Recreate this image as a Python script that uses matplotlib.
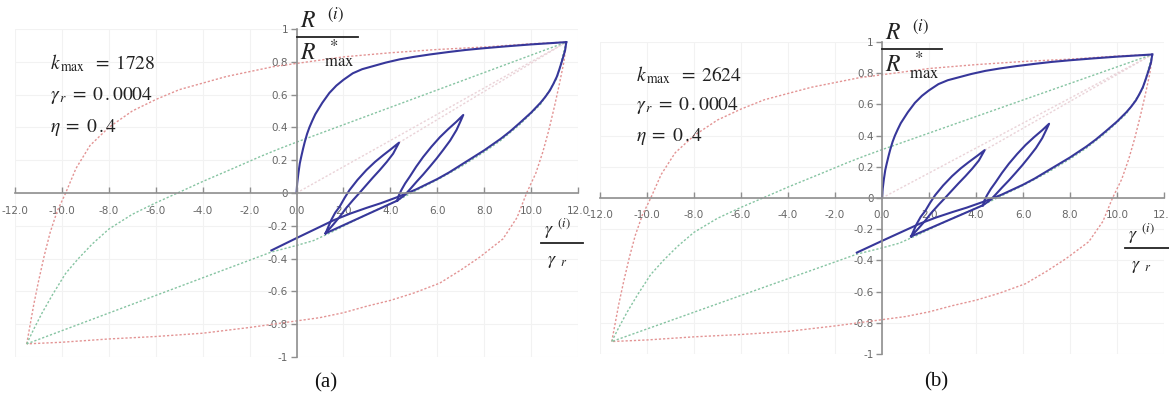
#! /usr/bin/env python3

import matplotlib

matplotlib.use("Agg")
import matplotlib.pyplot as plt
from matplotlib.lines import Line2D
from matplotlib.ticker import FixedLocator, FuncFormatter

# normalised strain gamma/gamma_r and force R/R*_max, same loop for both runs
backbone_x = [0.0, 0.03, 0.08, 0.14, 0.2, 0.28, 0.35, 0.45, 0.55, 0.67, 0.8, 0.95, 1.1, 1.25, 1.4,
              1.7, 2.0, 2.4, 2.8, 3.3, 3.8, 4.4, 5.0, 5.7, 6.5, 7.2, 8.0, 9.0, 10.0, 11.5]
backbone_y = [0.0, 0.06, 0.12, 0.18, 0.22, 0.27, 0.31, 0.36, 0.40, 0.44, 0.48, 0.515, 0.55, 0.58, 0.61,
              0.655, 0.69, 0.73, 0.755, 0.775, 0.795, 0.815, 0.83, 0.845, 0.86, 0.872, 0.883, 0.895, 0.906, 0.92]

unload_x = [11.5, 11.45, 11.35, 11.22, 11.1, 10.95, 10.8, 10.6, 10.4, 10.0, 9.5, 9.1, 8.7, 8.3, 8.0,
            7.5, 7.0, 6.5, 6.0, 5.5, 5.1, 4.7, 4.3, 3.6, 3.0, 2.3, 1.6, 0.8, 0.0, -1.07]
unload_y = [0.92, 0.87, 0.82, 0.76, 0.71, 0.665, 0.625, 0.585, 0.55, 0.49, 0.425, 0.375, 0.33, 0.29, 0.26,
            0.215, 0.17, 0.125, 0.085, 0.05, 0.022, -0.002, -0.025, -0.062, -0.09, -0.125, -0.165, -0.22, -0.275, -0.35]

loop1_x = [1.24, 1.33, 1.48, 1.65, 1.84, 2.05, 2.26, 2.6, 2.98, 3.35, 3.69, 4.05, 4.37,
           4.25, 4.12, 3.85, 3.55, 3.25, 2.98, 2.7, 2.41, 2.1, 1.84, 1.55, 1.24]
loop1_y = [-0.246, -0.215, -0.165, -0.12, -0.083, -0.03, 0.018, 0.08, 0.14, 0.19, 0.23, 0.27, 0.307,
           0.275, 0.24, 0.19, 0.14, 0.093, 0.049, 0.003, -0.043, -0.095, -0.145, -0.195, -0.246]

loop2_x = [4.29, 4.36, 4.47, 4.63, 4.83, 5.1, 5.4, 5.75, 6.11, 6.47, 6.82, 7.11,
           7.0, 6.82, 6.55, 6.25, 5.97, 5.68, 5.4, 5.12, 4.87, 4.62, 4.45, 4.29]
loop2_y = [-0.047, -0.015, 0.018, 0.058, 0.10, 0.16, 0.22, 0.282, 0.34, 0.39, 0.435, 0.476,
           0.44, 0.384, 0.32, 0.262, 0.21, 0.16, 0.113, 0.069, 0.028, -0.012, -0.03, -0.047]

link_x = [1.24, 4.29]
link_y = [-0.246, -0.047]

# Masing curves (red) and scaled skeleton curves (green)
red_up_x = [-11.5, -11.35, -11.2, -11.0, -10.75, -10.5, -10.2, -9.84, -9.4, -8.8, -8.0, -7.0, -6.0,
            -5.0, -4.0, -3.0, -2.0, -1.0, 0.0, 2.0, 4.0, 6.0, 8.0, 10.0, 11.5]
red_up_y = [-0.92, -0.80, -0.68, -0.54, -0.38, -0.24, -0.11, 0.0, 0.15, 0.29, 0.40, 0.50, 0.57,
            0.63, 0.67, 0.71, 0.74, 0.77, 0.79, 0.83, 0.855, 0.875, 0.89, 0.91, 0.92]

red_down_x = [11.5, 11.4, 11.2, 11.0, 10.75, 10.5, 10.2, 9.81, 9.4, 8.8, 7.82, 7.0, 6.1, 5.0, 4.0,
              3.0, 2.0, 1.0, 0.0, -2.0, -4.0, -6.0, -8.0, -10.0, -11.5]
red_down_y = [0.92, 0.80, 0.66, 0.53, 0.38, 0.25, 0.12, 0.0, -0.15, -0.28, -0.39, -0.47, -0.55, -0.61, -0.655,
              -0.69, -0.73, -0.76, -0.78, -0.82, -0.855, -0.875, -0.89, -0.91, -0.92]

green_up_x = [-11.5, -11.2, -10.84, -10.4, -9.84, -9.3, -8.7, -8.0, -7.0, -6.0, -5.07, -4.0, -2.7,
              -1.5, -0.73, 0.0, 11.5]
green_up_y = [-0.92, -0.83, -0.73, -0.62, -0.49, -0.40, -0.31, -0.22, -0.13, -0.06, 0.0, 0.07, 0.15,
              0.225, 0.27, 0.31, 0.92]

green_down_x = [11.5, 11.1, 10.4, 9.5, 8.7, 8.0, 7.0, 6.0, 5.1, 4.3, 3.0, 1.55, 0.73, 0.0, -1.07, -11.5]
green_down_y = [0.92, 0.70, 0.54, 0.415, 0.32, 0.25, 0.16, 0.08, 0.015, -0.045, -0.13, -0.235, -0.29, -0.32,
                -0.36, -0.92]

chord_x = [0.0, 11.5]
chord_y = [0.0, 0.92]
chord2_x = [4.37, 11.5]
chord2_y = [0.307, 0.92]

kmax_values = [1728, 2624]
gamma_r = "0\\,.0004"
eta = "0\\,.4"
panel_names = ["(a)", "(b)"]

x_ticks = [-12, -10, -8, -6, -4, -2, 0, 2, 4, 6, 8, 10, 12]
y_ticks = [-1, -0.8, -0.6, -0.4, -0.2, 0, 0.2, 0.4, 0.6, 0.8, 1]

W, H = 1169, 400

blue = "#37379a"
red = "#e39494"
green = "#86c4a2"
faint = "#ead3d8"
axis_grey = "#8f8f8f"
label_grey = "#666666"
ink = "#222222"
tick_font = ["Liberation Sans Narrow", "DejaVu Sans"]


def px(x, y):
    return x / W, 1 - y / H


def drawPanel(ax):
    ax.set_xlim(-12, 12)
    ax.set_ylim(-1, 1)
    ax.set_facecolor("none")

    ax.grid(True, color="#f2f2f2", linewidth=0.8)
    ax.set_axisbelow(True)

    dotted = dict(linestyle=(0, (1.6, 1.4)), linewidth=1.0, clip_on=False)
    ax.plot(chord_x, chord_y, color=faint, **dotted)
    ax.plot(chord2_x, chord2_y, color=faint, **dotted)
    ax.plot(red_up_x, red_up_y, color=red, **dotted)
    ax.plot(red_down_x, red_down_y, color=red, **dotted)
    ax.plot(green_up_x, green_up_y, color=green, **dotted)
    ax.plot(green_down_x, green_down_y, color=green, **dotted)

    solid = dict(color=blue, linewidth=1.5, solid_joinstyle="round", clip_on=False)
    ax.plot(backbone_x, backbone_y, **solid)
    ax.plot(unload_x, unload_y, **solid)
    ax.plot(loop1_x, loop1_y, **solid)
    ax.plot(loop2_x, loop2_y, **solid)
    ax.plot(link_x, link_y, **solid)

    for side in ["top", "right"]:
        ax.spines[side].set_visible(False)
    for side in ["left", "bottom"]:
        ax.spines[side].set_position("zero")
        ax.spines[side].set_color(axis_grey)
        ax.spines[side].set_linewidth(1.2)

    ax.xaxis.set_major_locator(FixedLocator(x_ticks))
    ax.yaxis.set_major_locator(FixedLocator(y_ticks))
    ax.xaxis.set_major_formatter(FuncFormatter(lambda v, p: "%.1f" % v))
    ax.yaxis.set_major_formatter(FuncFormatter(lambda v, p: "%g" % round(v, 1)))
    ax.tick_params(axis="x", direction="in", length=4, width=1, color=axis_grey,
                   pad=9, labelsize=7.5, labelcolor=label_grey)
    ax.tick_params(axis="y", direction="out", length=4, width=1, color=axis_grey,
                   pad=2, labelsize=7.5, labelcolor=label_grey)
    for lab in ax.get_xticklabels() + ax.get_yticklabels():
        lab.set_family(tick_font)


def fraction(fig, top, bottom, left, right, bar_y, top_y, bottom_y, size):
    fig.text(*px(left + 3, top_y), top, fontsize=size, ha="left", va="center", color=ink)
    fig.text(*px(left + 3, bottom_y), bottom, fontsize=size, ha="left", va="center", color=ink)
    fig.add_artist(Line2D([left / W, right / W], [1 - bar_y / H, 1 - bar_y / H],
                          color=ink, linewidth=1.3, transform=fig.transFigure))


def main():
    plt.rcParams["mathtext.fontset"] = "stix"
    plt.rcParams["axes.unicode_minus"] = False

    fig = plt.figure(figsize=(W / 100, H / 100), dpi=100)
    fig.patch.set_facecolor("white")

    axA = fig.add_axes([15 / W, 1 - 357 / H, (578 - 15) / W, (357 - 29) / H])
    axB = fig.add_axes([600 / W, 1 - 354 / H, (1164 - 600) / W, (354 - 42) / H])

    layout = [
        dict(note=(50, [63, 95, 127]), rlab=(297, 358, 37, 20, 54), glab=(541, 583, 243, 229, 261),
             cap=(326, 383)),
        dict(note=(636, [75, 106, 136]), rlab=(882, 942, 49, 32, 66), glab=(1125, 1169, 248, 234, 266),
             cap=(936, 382)),
    ]

    for ax, kmax, name, pos in zip([axA, axB], kmax_values, panel_names, layout):
        drawPanel(ax)
        nx, rows = pos["note"]
        notes = [
            r"$k_{\,\mathrm{max}}\;\;=\;%d$" % kmax,
            r"$\gamma_{\,r}\;=\;%s$" % gamma_r,
            r"$\eta\;=\;%s$" % eta,
        ]
        for text, ny in zip(notes, rows):
            fig.text(*px(nx, ny), text, fontsize=14, ha="left", va="center", color=ink)

        left, right, bar, ty, by = pos["rlab"]
        fraction(fig, r"$R^{\;\;\;(i)}$", r"$R^{\;\;\;*}_{\;\;\;\mathrm{max}}$",
                 left, right, bar, ty, by, 17)
        left, right, bar, ty, by = pos["glab"]
        fraction(fig, r"$\gamma^{\;\;(i)}$", r"$\;\gamma_{\;\;r}$",
                 left, right, bar, ty, by, 13)

        fig.text(*px(*pos["cap"]), name, fontsize=15, ha="center", va="center",
                 family="Liberation Serif", color="#111111")

    fig.savefig("out.png", dpi=100, facecolor="white")
    return 0


if __name__ == "__main__":
    import sys

    sys.exit(main())
